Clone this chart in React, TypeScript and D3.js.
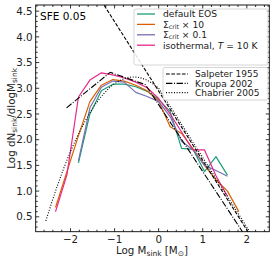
import React from "react";
import * as d3 from "d3";

// bin centres (log M_sink)
const binX = [-2.34, -2.08, -1.82, -1.56, -1.3, -1.04, -0.78, -0.52, -0.26, 0.0, 0.26, 0.52, 0.78, 1.04, 1.3, 1.56, 1.82];

const defaultEOS = [1.55, 2.5, 2.95, 3.08, 3.08, 3.03, 2.94, 2.78, 2.55, 1.83, 1.81, 1.38, 1.67, 1.31]; // from -1.82
const sigma10 = [0.68, 1.38, 2.08, 2.74, 3.06, 3.17, 3.14, 3.06, 2.95, 2.75, 2.25, 2.12, 1.82, 1.5, 1.22, 1.0, 0.6]; // from -2.34
const sigma01 = [1.59, 2.62, 3.02, 3.14, 3.12, 2.92, 2.84, 2.74, 2.45, 1.97, 1.8, 1.5, 1.4, 1.29]; // from -1.82
const isothermal = [0.6, 1.32, 2.83, 3.16, 3.3, 3.26, 3.2, 3.12, 3.01, 2.8, 2.5, 2.15, 1.8, 1.8, 1.3, 0.9]; // from -2.34

const salpeterX = [-1.3, 2.1];
const salpeterY = [4.7, 0.11];
const kroupaX = [-2.09, -1.1, -0.3, 1.95];
const kroupaY = [2.62, 3.31, 3.07, 0.145];
const chabLowX = [-2.56, -2.3, -2.0, -1.7, -1.4, -1.1, -0.8, -0.56, -0.3, 0.0];
const chabLowY = [0.42, 1.1, 1.77, 2.31, 2.73, 3.02, 3.18, 3.22, 3.17, 3.0];
const chabHighX = [0.0, 2.1];
const chabHighY = [3.0, 0.165];

const xTicks = [-2, -1, 0, 1, 2];
const yTicks = [0.5, 1.0, 1.5, 2.0, 2.5, 3.0, 3.5, 4.0, 4.5];

const W = 274, H = 262;
const L = 35.7, R = 269.3, T = 5, B = 231.7;
const FONT = "DejaVu Sans, sans-serif";

const series = [
  { name: "default EOS", data: defaultEOS, start: 2, color: "#1b9e77" },
  { name: "sigma10", data: sigma10, start: 0, color: "#d95f02" },
  { name: "sigma01", data: sigma01, start: 2, color: "#7570b3" },
  { name: "iso", data: isothermal, start: 0, color: "#e7298a" },
];

export default function App() {
  const x = d3.scaleLinear().domain([-2.79, 2.51]).range([L, R]);
  const y = d3.scaleLinear().domain([0.21, 4.62]).range([B, T]);
  const line = d3.line<[number, number]>().x((d) => x(d[0])).y((d) => y(d[1]));
  const smooth = d3.line<[number, number]>().x((d) => x(d[0])).y((d) => y(d[1])).curve(d3.curveMonotoneX);
  const zip = (a: number[], b: number[]) => a.map((v, i) => [v, b[i]] as [number, number]);

  const xMinor = d3.range(-2.8, 2.51, 0.2).map((v) => Math.round(v * 10) / 10).filter((v) => x(v) >= L - 0.1 && !xTicks.includes(v));
  const yMinor = d3.range(0.3, 4.62, 0.1).map((v) => Math.round(v * 10) / 10).filter((v) => Math.abs((v * 2) - Math.round(v * 2)) > 0.01);

  const black = "#000";
  return (
    <svg width={W} height={H} style={{ position: "absolute", left: 0, top: 0 }} fontFamily={FONT}>
      <defs>
        <clipPath id="plot">
          <rect x={L} y={T} width={R - L} height={B - T} />
        </clipPath>
      </defs>
      <rect width={W} height={H} fill="#fff" />
      <g clipPath="url(#plot)" fill="none" strokeWidth={1.1}>
        {series.map((s) => (
          <path key={s.name} d={line(s.data.map((v, i) => [binX[i + s.start], v] as [number, number])) || ""} stroke={s.color} strokeWidth={1.2} strokeLinejoin="round" />
        ))}
        <path d={line(zip(salpeterX, salpeterY)) || ""} stroke={black} strokeDasharray="3.7,1.6" />
        <path d={line(zip(kroupaX, kroupaY)) || ""} stroke={black} strokeDasharray="6.4,1.6,1,1.6" />
        <path d={smooth(zip(chabLowX, chabLowY)) || ""} stroke={black} strokeDasharray="1,1.65" />
        <path d={line(zip(chabHighX, chabHighY)) || ""} stroke={black} strokeDasharray="1,1.65" />
      </g>
      {/* frame */}
      <rect x={L} y={T} width={R - L} height={B - T} fill="none" stroke="#000" strokeWidth={0.9} />
      {/* ticks */}
      <g stroke="#000" strokeWidth={0.8}>
        {xTicks.map((t) => (
          <g key={"xt" + t}>
            <line x1={x(t)} x2={x(t)} y1={B} y2={B - 3.5} />
            <line x1={x(t)} x2={x(t)} y1={T} y2={T + 3.5} />
          </g>
        ))}
        {xMinor.map((t) => (
          <g key={"xm" + t}>
            <line x1={x(t)} x2={x(t)} y1={B} y2={B - 2} />
            <line x1={x(t)} x2={x(t)} y1={T} y2={T + 2} />
          </g>
        ))}
        {yTicks.map((t) => (
          <g key={"yt" + t}>
            <line x1={L} x2={L + 3.5} y1={y(t)} y2={y(t)} />
            <line x1={R} x2={R - 3.5} y1={y(t)} y2={y(t)} />
          </g>
        ))}
        {yMinor.map((t) => (
          <g key={"ym" + t}>
            <line x1={L} x2={L + 2} y1={y(t)} y2={y(t)} />
            <line x1={R} x2={R - 2} y1={y(t)} y2={y(t)} />
          </g>
        ))}
      </g>
      <g fontSize={10.3} fill="#222">
        {xTicks.map((t) => (
          <text key={"xl" + t} x={x(t)} y={B + 11.5} textAnchor="middle">
            {t < 0 ? "\u2212" + Math.abs(t) : String(t)}
          </text>
        ))}
        {yTicks.map((t) => (
          <text key={"yl" + t} x={L - 3} y={y(t) + 3.7} textAnchor="end">
            {t.toFixed(1)}
          </text>
        ))}
      </g>
      {/* axis labels */}
      <text x={152} y={254} textAnchor="middle" fontSize={10.3} fill="#222">
        Log M<tspan fontSize={7.5} dy={2}>sink</tspan>
        <tspan dy={-2}> [M</tspan>
        <tspan fontSize={7.5} dy={2}>⊙</tspan>
        <tspan dy={-2}>]</tspan>
      </text>
      <text transform={`translate(15,${(T + B) / 2}) rotate(-90)`} textAnchor="middle" fontSize={10.3} fill="#222">
        Log dN<tspan fontSize={7.5} dy={2}>sink</tspan>
        <tspan dy={-2}>/dlogM</tspan>
        <tspan fontSize={7.5} dy={2}>sink</tspan>
      </text>
      <text x={40} y={20} fontSize={10.5} fill="#000">SFE 0.05</text>
      {/* legend 1 */}
      <rect x={134} y={9} width={134} height={56} rx={2} fill="#fff" fillOpacity={0.85} stroke="#ccc" strokeWidth={0.8} />
      <g fontSize={9.2} fill="#222">
        {series.map((s, i) => (
          <line key={"lg" + i} x1={137} x2={155} y1={14 + i * 10.4} y2={14 + i * 10.4} stroke={s.color} strokeWidth={1.3} />
        ))}
        <text x={163} y={17.4}>default EOS</text>
        <text x={163} y={27.6}>Σ<tspan fontSize={6.2} dy={1}>crit</tspan><tspan dy={-1}> × 10</tspan></text>
        <text x={163} y={38.0}>Σ<tspan fontSize={6.2} dy={1}>crit</tspan><tspan dy={-1}> × 0.1</tspan></text>
        <text x={163} y={48.6}>isothermal, <tspan fontStyle="italic">T</tspan> = 10 K</text>
      </g>
      {/* legend 2 */}
      <rect x={163} y={67.5} width={105} height={32.5} rx={2} fill="#fff" fillOpacity={0.85} stroke="#ccc" strokeWidth={0.8} />
      <g fontSize={9} fill="#222">
        <line x1={166} x2={188} y1={74} y2={74} stroke={black} strokeWidth={1.2} strokeDasharray="3.7,1.6" />
        <line x1={166} x2={188} y1={83.3} y2={83.3} stroke={black} strokeWidth={1.2} strokeDasharray="6.4,1.6,1,1.6" />
        <line x1={166} x2={188} y1={92.6} y2={92.6} stroke={black} strokeWidth={1.2} strokeDasharray="1,1.65" />
        <text x={195} y={77.3}>Salpeter 1955</text>
        <text x={195} y={86.6}>Kroupa 2002</text>
        <text x={195} y={95.9}>Chabrier 2005</text>
      </g>
    </svg>
  );
}
